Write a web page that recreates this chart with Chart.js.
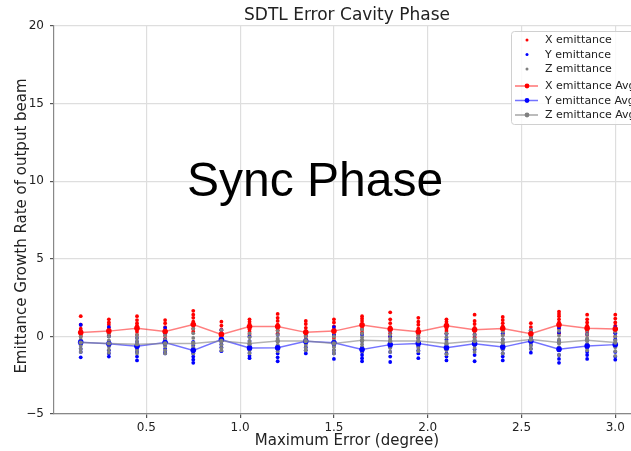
<!DOCTYPE html>
<html>
<head>
<meta charset="utf-8">
<script src="https://cdn.jsdelivr.net/npm/chart.js@4/dist/chart.umd.min.js"></script>
<style>
  html, body { margin: 0; padding: 0; background: #fff; }
  #wrap { width: 631px; height: 451px; overflow: hidden; position: relative; }
  #chart { position: absolute; left: 0; top: 0; }
</style>
</head>
<body>
<div id="wrap"><canvas id="chart" width="660" height="451"></canvas></div>
<script>
// Maximum error values (degree)
const errX = [0.15, 0.30, 0.45, 0.60, 0.75, 0.90, 1.05, 1.20, 1.35, 1.50,
              1.65, 1.80, 1.95, 2.10, 2.25, 2.40, 2.55, 2.70, 2.85, 3.00];

// Average growth rate per error level
const xAvg = [0.25, 0.34, 0.53, 0.32, 0.77, 0.13, 0.64, 0.64, 0.26, 0.34,
              0.73, 0.47, 0.30, 0.68, 0.43, 0.51, 0.17, 0.75, 0.53, 0.47];
const yAvg = [-0.37, -0.47, -0.64, -0.40, -0.90, -0.21, -0.75, -0.73, -0.32, -0.41,
              -0.84, -0.53, -0.45, -0.73, -0.47, -0.69, -0.30, -0.82, -0.62, -0.53];
const zAvg = [-0.40, -0.45, -0.50, -0.45, -0.45, -0.30, -0.45, -0.30, -0.30, -0.45,
              -0.25, -0.30, -0.30, -0.45, -0.30, -0.40, -0.20, -0.40, -0.25, -0.40];

// Individual runs per error level
const xRuns = [
  [1.3, 0.75, 0.5, 0.35, 0.2, 0.1, 0.0],
  [1.1, 0.9, 0.75, 0.55, 0.4, 0.2, 0.05],
  [1.3, 1.05, 0.85, 0.7, 0.5, 0.3, 0.1],
  [1.05, 0.85, 0.6, 0.4, 0.25, 0.05, -0.15],
  [1.65, 1.4, 1.2, 0.95, 0.75, 0.5, 0.3],
  [0.95, 0.7, 0.45, 0.2, 0.0, -0.2, -0.3],
  [1.1, 0.95, 0.8, 0.6, 0.45, 0.3, 0.1],
  [1.45, 1.2, 1.0, 0.75, 0.55, 0.4, 0.2],
  [1.0, 0.8, 0.55, 0.35, 0.2, 0.0, -0.2],
  [1.1, 0.9, 0.65, 0.45, 0.3, 0.1, -0.1],
  [1.3, 1.15, 1.0, 0.8, 0.6, 0.45, 0.25],
  [1.55, 1.1, 0.85, 0.6, 0.4, 0.2, 0.0],
  [1.2, 0.95, 0.75, 0.5, 0.3, 0.1, -0.1],
  [1.1, 0.95, 0.8, 0.65, 0.5, 0.35, 0.2],
  [1.4, 1.0, 0.8, 0.55, 0.35, 0.15, -0.05],
  [1.25, 1.05, 0.85, 0.65, 0.45, 0.3, 0.1],
  [0.85, 0.6, 0.4, 0.2, 0.0, -0.15, -0.3],
  [1.6, 1.45, 1.3, 1.1, 0.9, 0.5, 0.2],
  [1.4, 1.1, 0.9, 0.7, 0.5, 0.3, 0.1],
  [1.4, 1.15, 0.9, 0.7, 0.5, 0.25, 0.0]
];
const yRuns = [
  [0.75, 0.3, -0.3, -0.5, -0.8, -1.0, -1.35],
  [0.6, 0.0, -0.35, -0.6, -0.9, -1.1, -1.3],
  [-0.1, -0.35, -0.6, -0.8, -1.0, -1.3, -1.55],
  [0.55, 0.2, -0.2, -0.55, -0.8, -1.0, -1.1],
  [-0.35, -0.6, -0.85, -1.1, -1.3, -1.5, -1.7],
  [0.4, 0.15, -0.1, -0.3, -0.5, -0.7, -0.95],
  [0.0, -0.3, -0.6, -0.85, -1.05, -1.25, -1.4],
  [0.1, -0.3, -0.6, -0.85, -1.1, -1.35, -1.6],
  [0.3, 0.05, -0.2, -0.45, -0.7, -0.9, -1.1],
  [0.6, 0.1, -0.3, -0.6, -0.9, -1.1, -1.45],
  [0.1, -0.3, -0.7, -1.0, -1.2, -1.4, -1.6],
  [0.35, 0.0, -0.35, -0.7, -1.0, -1.3, -1.65],
  [0.25, -0.1, -0.4, -0.65, -0.9, -1.1, -1.4],
  [0.15, -0.2, -0.6, -0.85, -1.1, -1.3, -1.55],
  [0.45, 0.1, -0.25, -0.55, -0.85, -1.2, -1.6],
  [0.2, -0.2, -0.55, -0.85, -1.1, -1.3, -1.55],
  [0.4, 0.15, -0.1, -0.3, -0.55, -0.8, -1.05],
  [0.55, 0.25, -0.3, -0.9, -1.2, -1.45, -1.7],
  [0.15, -0.2, -0.5, -0.75, -1.0, -1.2, -1.45],
  [0.6, 0.2, -0.2, -0.6, -1.0, -1.3, -1.5]
];
const zRuns = [
  [0.3, 0.0, -0.2, -0.4, -0.6, -0.8, -1.0],
  [0.2, 0.0, -0.25, -0.45, -0.65, -0.85, -1.05],
  [0.1, -0.1, -0.3, -0.5, -0.7, -0.9, -1.1],
  [0.3, 0.05, -0.2, -0.45, -0.65, -0.9, -1.1],
  [0.5, 0.2, -0.1, -0.4, -0.7, -0.9, -1.1],
  [0.4, 0.1, -0.15, -0.35, -0.55, -0.75, -0.9],
  [0.2, -0.05, -0.3, -0.5, -0.7, -0.9, -1.1],
  [0.35, 0.1, -0.15, -0.35, -0.55, -0.75, -0.95],
  [0.3, 0.05, -0.15, -0.35, -0.55, -0.75, -0.9],
  [0.25, 0.0, -0.25, -0.5, -0.7, -0.9, -1.1],
  [0.45, 0.2, -0.05, -0.3, -0.5, -0.7, -0.95],
  [0.35, 0.1, -0.15, -0.35, -0.55, -0.75, -1.0],
  [0.3, 0.05, -0.15, -0.35, -0.55, -0.75, -0.95],
  [0.2, -0.05, -0.3, -0.5, -0.7, -0.9, -1.15],
  [0.35, 0.1, -0.15, -0.35, -0.55, -0.75, -1.0],
  [0.3, 0.05, -0.2, -0.45, -0.65, -0.85, -1.1],
  [0.4, 0.2, 0.0, -0.2, -0.4, -0.6, -0.8],
  [0.35, 0.05, -0.2, -0.45, -0.7, -0.9, -1.2],
  [0.4, 0.15, -0.1, -0.3, -0.5, -0.7, -0.9],
  [0.3, 0.0, -0.25, -0.45, -0.7, -0.95, -1.25]
];

const xTicks = [0.5, 1.0, 1.5, 2.0, 2.5, 3.0];
const yTicks = [-5, 0, 5, 10, 15, 20];

const seriesNames = ['X emittance', 'Y emittance', 'Z emittance',
                     'X emittance Avg', 'Y emittance Avg', 'Z emittance Avg'];

const RED = '#ff0000', BLUE = '#0000ff', GREY = '#808080';

function runsToPoints(runs) {
    const pts = [];
    runs.forEach((vals, i) => vals.forEach(v => pts.push({ x: errX[i], y: v })));
    return pts;
}
function avgToPoints(avg) {
    return avg.map((v, i) => ({ x: errX[i], y: v }));
}

const FONT = '"DejaVu Sans", sans-serif';
const CHART_LEFT = 54, CHART_BOTTOM = 414;

// title, axis labels, overlay text and legend
const decorPlugin = {
    id: 'decor',
    afterDraw(chart) {
        const ctx = chart.ctx;
        ctx.save();
        ctx.fillStyle = '#222';
        ctx.textAlign = 'center';
        ctx.textBaseline = 'alphabetic';
        ctx.font = '17px ' + FONT;
        ctx.fillText('SDTL Error Cavity Phase', 347, 20);
        ctx.font = '15px ' + FONT;
        ctx.fillText('Maximum Error (degree)', 347, 445);
        ctx.save();
        ctx.translate(26, 226);
        ctx.rotate(-Math.PI / 2);
        ctx.fillText('Emittance Growth Rate of output beam', 0, 0);
        ctx.restore();

        ctx.fillStyle = '#000';
        ctx.font = '48px "Liberation Sans", Arial, sans-serif';
        ctx.fillText('Sync Phase', 315, 196);

        // legend
        const lx = 511, ly = 31, lw = 140, lh = 93;
        ctx.fillStyle = 'rgba(255,255,255,0.85)';
        ctx.strokeStyle = '#d0d0d0';
        ctx.lineWidth = 1;
        ctx.beginPath();
        ctx.roundRect(lx + 0.5, ly + 0.5, lw, lh, 3);
        ctx.fill();
        ctx.stroke();
        const rowsY = [40, 54.5, 69, 86, 100.5, 115];
        const cols = [RED, BLUE, GREY, RED, BLUE, GREY];
        const lineCols = ['rgba(255,0,0,0.55)', 'rgba(0,0,255,0.55)', 'rgba(128,128,128,0.7)'];
        ctx.font = '11px ' + FONT;
        ctx.textAlign = 'left';
        ctx.textBaseline = 'middle';
        seriesNames.forEach((name, k) => {
            const y = rowsY[k];
            if (k >= 3) {
                ctx.strokeStyle = lineCols[k - 3];
                ctx.lineWidth = 1.5;
                ctx.beginPath();
                ctx.moveTo(515, y);
                ctx.lineTo(538, y);
                ctx.stroke();
                ctx.fillStyle = cols[k];
                ctx.beginPath();
                ctx.arc(527, y, 2.4, 0, Math.PI * 2);
                ctx.fill();
            } else {
                ctx.fillStyle = cols[k];
                ctx.beginPath();
                ctx.arc(527, y, 1.5, 0, Math.PI * 2);
                ctx.fill();
            }
            ctx.fillStyle = '#222';
            ctx.fillText(name, 545, y + 0.5);
        });
        ctx.restore();
    }
};

const ctx = document.getElementById('chart').getContext('2d');
new Chart(ctx, {
    type: 'scatter',
    data: {
        datasets: [
            { label: seriesNames[0], data: runsToPoints(xRuns), backgroundColor: RED, borderWidth: 0,
              pointRadius: 1.9, order: 6 },
            { label: seriesNames[1], data: runsToPoints(yRuns), backgroundColor: BLUE, borderWidth: 0,
              pointRadius: 1.9, order: 5 },
            { label: seriesNames[2], data: runsToPoints(zRuns), backgroundColor: GREY, borderWidth: 0,
              pointRadius: 1.9, order: 4 },
            { label: seriesNames[3], data: avgToPoints(xAvg), showLine: true, borderColor: 'rgba(255,0,0,0.5)',
              borderWidth: 1.5, backgroundColor: RED, pointBorderWidth: 0, pointRadius: 2.8, order: 3 },
            { label: seriesNames[4], data: avgToPoints(yAvg), showLine: true, borderColor: 'rgba(0,0,255,0.55)',
              borderWidth: 1.5, backgroundColor: BLUE, pointBorderWidth: 0, pointRadius: 2.8, order: 2 },
            { label: seriesNames[5], data: avgToPoints(zAvg), showLine: true, borderColor: 'rgba(128,128,128,0.6)',
              borderWidth: 1.5, backgroundColor: GREY, pointBorderWidth: 0, pointRadius: 2.2, order: 1 }
        ]
    },
    options: {
        responsive: false,
        animation: false,
        layout: { padding: { top: 26, right: 18, left: 0, bottom: 0 } },
        plugins: {
            legend: { display: false },
            title: { display: false },
            tooltip: { enabled: false }
        },
        scales: {
            x: {
                type: 'linear',
                min: 0.0075,
                max: 3.1425,
                afterBuildTicks: axis => { axis.ticks = xTicks.map(v => ({ value: v })); },
                afterFit: axis => { axis.height = 451 - CHART_BOTTOM; },
                ticks: {
                    color: '#222',
                    font: { family: FONT, size: 12 },
                    padding: 3,
                    maxRotation: 0,
                    callback: v => v.toFixed(1)
                },
                grid: { color: '#dedede', lineWidth: 1.2, tickColor: '#555', tickLength: 4 },
                border: { color: '#888', width: 1.2 }
            },
            y: {
                min: -5,
                max: 20,
                afterBuildTicks: axis => { axis.ticks = yTicks.map(v => ({ value: v })); },
                afterFit: axis => { axis.width = CHART_LEFT; },
                ticks: {
                    color: '#222',
                    font: { family: FONT, size: 12 },
                    padding: 6,
                    callback: v => (v < 0 ? '\u2212' + Math.abs(v) : String(v))
                },
                grid: { color: '#dedede', lineWidth: 1.2, tickColor: '#555', tickLength: 4 },
                border: { color: '#888', width: 1.2 }
            }
        }
    },
    plugins: [decorPlugin]
});
</script>
</body>
</html>
